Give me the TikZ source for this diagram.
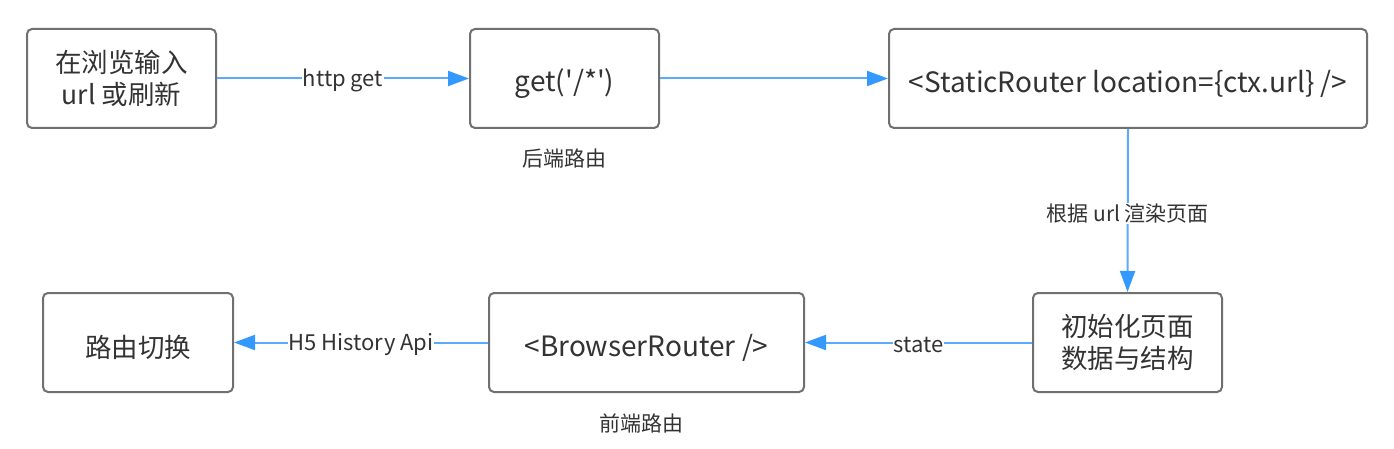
\documentclass[tikz,border=0pt]{standalone}
\usepackage{fontspec}
\newfontfamily\mainf{Noto Sans CJK SC}
\usetikzlibrary{arrows.meta}
\definecolor{boxline}{RGB}{112,112,112}
\definecolor{txt}{RGB}{51,51,51}
\definecolor{conn}{RGB}{90,170,255}
\definecolor{head}{RGB}{51,153,255}
\tikzset{
  box/.style={draw=boxline, line width=2pt, rounded corners=5pt, fill=white,
    text=txt, font=\mainf\fontsize{26.5}{32}\selectfont, align=center, inner sep=0pt,
    execute at begin node={\rule{0pt}{1.18em}}},
  lbox/.style={box, font=\mainf\fontsize{28}{32}\selectfont},
  conn/.style={draw=conn, line width=2pt,
    -{Triangle[length=21pt,width=15pt,fill=head,color=head]}},
  lab/.style={text=txt, font=\mainf\fontsize{21}{24}\selectfont, fill=white, inner sep=1pt},
  llab/.style={lab, font=\mainf\fontsize{22}{24}\selectfont},
  note/.style={text=txt, font=\mainf\fontsize{21}{24}\selectfont, inner sep=0pt}
}
\begin{document}
\begin{tikzpicture}[x=1pt,y=-1pt]
\useasboundingbox (0,0) rectangle (1394,449);
\node[box, minimum width=189pt, minimum height=99pt] (a) at (121.5,78.5) {在浏览输入\\url 或刷新};
\node[lbox, minimum width=189pt, minimum height=99pt] (b) at (564.5,78.5) {get('/*')};
\node[lbox, minimum width=478pt, minimum height=99pt] (c) at (1128,78.5) {<StaticRouter location=\{ctx.url\} />};
\node[box, minimum width=189pt, minimum height=99pt] (d) at (1127.5,342.5) {初始化页面\\数据与结构};
\node[lbox, minimum width=315pt, minimum height=99pt] (e) at (646.5,342.5) {<BrowserRouter />};
\node[box, minimum width=190pt, minimum height=99pt] (f) at (138,342.5) {路由切换};
\node[note] (n1) at (564,159) {后端路由};
\node[note] (n2) at (641,423) {前端路由};
\draw[conn] (a.east) -- node[llab, yshift=-2pt] {http get} (b.west);
\draw[conn] (b.east) -- (c.west);
\draw[conn] (c.south) -- node[lab, pos=0.52] {根据 url 渲染页面} (d.north);
\draw[conn] (d.west) -- node[llab, pos=0.5, yshift=-2pt] {state} (e.east);
\draw[conn] (e.west) -- node[llab, yshift=-2pt] {H5 History Api} (f.east);
\end{tikzpicture}
\end{document}
